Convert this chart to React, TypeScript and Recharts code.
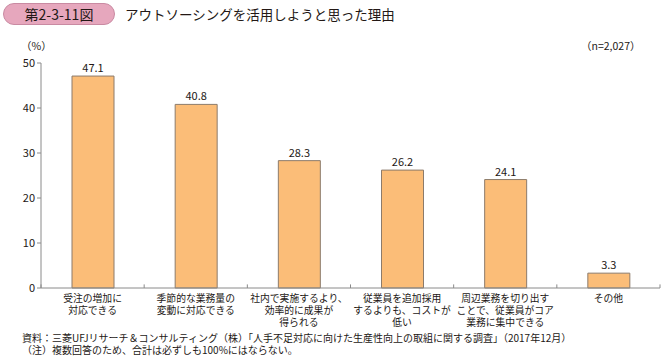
import React from "react";
import { Bar, BarChart, LabelList, ReferenceLine, XAxis, YAxis } from "recharts";

const categories = [
  "受注の増加に\n対応できる",
  "季節的な業務量の\n変動に対応できる",
  "社内で実施するより、\n効率的に成果が\n得られる",
  "従業員を追加採用\nするよりも、コストが\n低い",
  "周辺業務を切り出す\nことで、従業員がコア\n業務に集中できる",
  "その他",
];
const values = [47.1, 40.8, 28.3, 26.2, 24.1, 3.3];
const yTicks = [0, 10, 20, 30, 40, 50];

const data = categories.map((label, i) => ({ label, value: values[i] }));

const FONT = '"Noto Sans CJK JP", "Noto Sans", sans-serif';
const TEXT = "#231815";

function CategoryTick(props: any) {
  const { x, y, payload } = props;
  const lines = String(payload.value).split("\n");
  return (
    <text x={x} y={y + 2} textAnchor="middle" fontSize={9.8} fill={TEXT} fontFamily={FONT}>
      {lines.map((ln: string, i: number) => (
        <tspan key={i} x={x} dy={i === 0 ? 4 : 12}>{ln}</tspan>
      ))}
    </text>
  );
}

export default function App() {
  return (
    <div style={{ position: "absolute", left: 0, top: 0, width: 663, height: 359, background: "#fff", fontFamily: FONT, color: TEXT }}>
      {/* header */}
      <div style={{ position: "absolute", left: 3, top: 3, width: 110, height: 20, borderRadius: 11, background: "#e6a7bd", border: "1px solid #c98aa2", fontSize: 14, lineHeight: "20px", textAlign: "center" }}>
        第2-3-11図
      </div>
      <div style={{ position: "absolute", left: 125, top: 3, fontSize: 13.5, lineHeight: "22px" }}>
        アウトソーシングを活用しようと思った理由
      </div>
      <div style={{ position: "absolute", left: 21, top: 38, fontSize: 10.5 }}>（%）</div>
      <div style={{ position: "absolute", left: 581, top: 38, fontSize: 10.5 }}>（n=2,027）</div>

      <div style={{ position: "absolute", left: 0, top: 0 }}>
        <BarChart width={663} height={359} data={data} margin={{ top: 63, right: 3, bottom: 0, left: 0 }} barCategoryGap={0}>
          <YAxis
            width={41}
            domain={[0, 50]}
            ticks={yTicks}
            interval={0}
            stroke="#8a8a8a"
            tickSize={4}
            tick={{ fontSize: 11, fill: TEXT, fontFamily: FONT }}
          />
          <XAxis
            dataKey="label"
            interval={0}
            stroke="#8a8a8a"
            tickLine={false}
            tick={<CategoryTick />}
            height={71}
          />
          {categories.map((c) => (
            <ReferenceLine
              key={c}
              segment={[{ x: c, y: 0 }, { x: c, y: 0.8 }]}
              position="start"
              stroke="#8a8a8a"
              ifOverflow="visible"
            />
          ))}
          <ReferenceLine
            segment={[{ x: categories[5], y: 0 }, { x: categories[5], y: 0.8 }]}
            position="end"
            stroke="#8a8a8a"
            ifOverflow="visible"
          />
          <Bar dataKey="value" fill="#fbbd78" stroke="#8c7b6b" strokeWidth={1} barSize={42} isAnimationActive={false}>
            <LabelList dataKey="value" position="top" offset={4} fontSize={11} fill={TEXT} fontFamily={FONT} formatter={(v: any) => Number(v).toFixed(1)} />
          </Bar>
        </BarChart>
      </div>

      {/* footer */}
      <div style={{ position: "absolute", left: 22, top: 332, fontSize: 10, lineHeight: "12px", whiteSpace: "nowrap" }}>
        資料：三菱UFJリサーチ＆コンサルティング（株）「人手不足対応に向けた生産性向上の取組に関する調査」（2017年12月）
        <br />
        （注）複数回答のため、合計は必ずしも100%にはならない。
      </div>
    </div>
  );
}
